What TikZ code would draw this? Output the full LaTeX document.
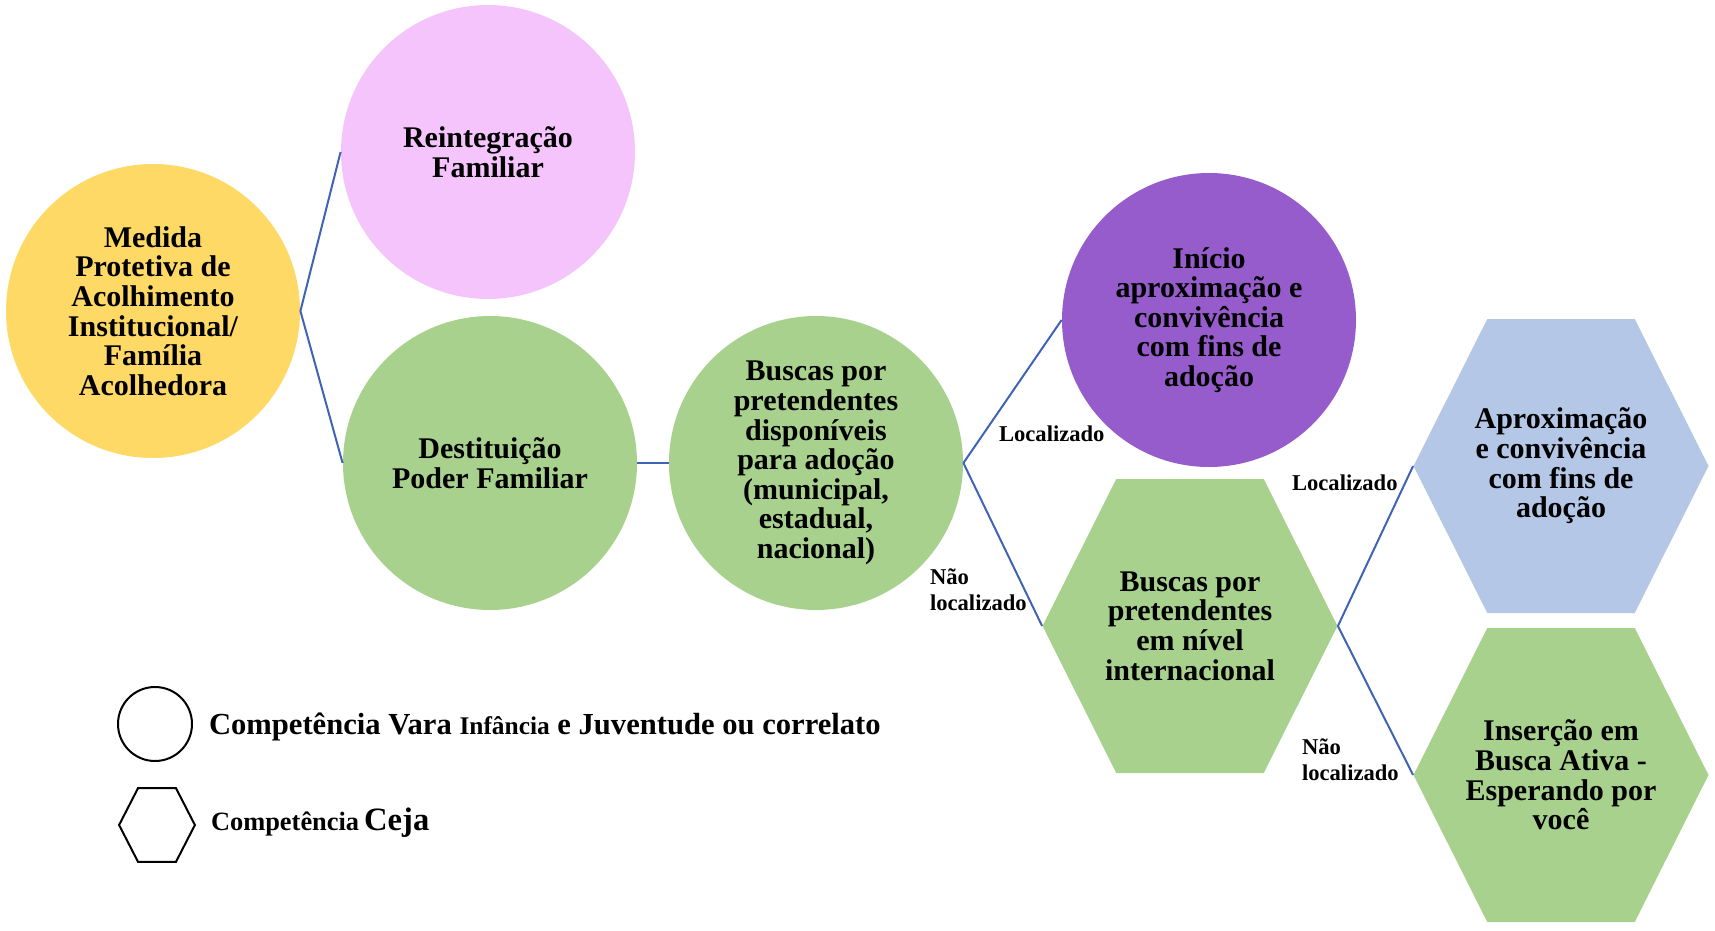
\documentclass[tikz,border=0pt]{standalone}
\usepackage{fontspec}
\setmainfont{Liberation Serif}
\usepackage{xcolor}
\usepackage{tikz}
\usetikzlibrary{calc,positioning}
\definecolor{linkblue}{RGB}{64,100,180}
\definecolor{acolhe}{RGB}{255,217,102}
\definecolor{reint}{RGB}{245,196,252}
\definecolor{verde}{RGB}{169,209,142}
\definecolor{roxo}{RGB}{150,92,204}
\definecolor{azul}{RGB}{180,199,231}

\begin{document}
\begin{tikzpicture}[x=0.5pt,y=-0.5pt,
    circ/.style={circle,fill=#1,minimum size=147pt,inner sep=0pt,align=center,font=\fontsize{15}{14.8}\selectfont\bfseries},
    hexa/.style={rectangle,minimum width=147.5pt,minimum height=147pt,inner sep=0pt,align=center,font=\fontsize{15}{14.8}\selectfont\bfseries,
      path picture={\fill[#1] (path picture bounding box.west)
        -- ($(path picture bounding box.north west)!.25!(path picture bounding box.north east)$)
        -- ($(path picture bounding box.north west)!.75!(path picture bounding box.north east)$)
        -- (path picture bounding box.east)
        -- ($(path picture bounding box.south west)!.75!(path picture bounding box.south east)$)
        -- ($(path picture bounding box.south west)!.25!(path picture bounding box.south east)$) -- cycle;}},
    lnk/.style={draw=linkblue,line width=1pt},
    lbl/.style={anchor=west,align=left,font=\fontsize{11.3}{12.8}\selectfont\bfseries},
    legtext/.style={anchor=west,font=\bfseries}]
   \useasboundingbox (0,0) rectangle (1715,931);
   \node[circ=acolhe] (med) at (153,311) {Medida\\Protetiva de\\Acolhimento\\Institucional/\\Família\\Acolhedora};
   \node[circ=reint]  (rein) at (488,152) {Reintegração\\Familiar};
   \node[circ=verde]  (dest) at (490,463) {Destituição\\Poder Familiar};
   \node[circ=verde]  (busc) at (816,463) {Buscas por\\pretendentes\\disponíveis\\para adoção\\(municipal,\\estadual,\\nacional)};
   \node[circ=roxo]   (inic) at (1209,320) {Início\\aproximação e\\convivência\\com fins de\\adoção};
   \node[hexa=verde]  (intl) at (1190,626) {Buscas por\\pretendentes\\em nível\\internacional};
   \node[hexa=azul]   (aprox) at (1561,466) {Aproximação\\e convivência\\com fins de\\adoção};
   \node[hexa=verde]  (ativa) at (1561,775) {Inserção em\\Busca Ativa -\\Esperando por\\você};
   \draw[lnk] (med.east)--(rein.west);
   \draw[lnk] (med.east)--(dest.west);
   \draw[lnk] (dest.east)--(busc.west);
   \draw[lnk] (busc.east)--(inic.west);
   \draw[lnk] (busc.east)--(intl.west);
   \draw[lnk] (intl.east)--(aprox.west);
   \draw[lnk] (intl.east)--(ativa.west);
   \node[lbl] (loc1) at (992,434) {Localizado};
   \node[lbl] (nloc1) at (923,590) {Não\\localizado};
   \node[lbl] (loc2) at (1285,483) {Localizado};
   \node[lbl] (nloc2) at (1295,760) {Não\\localizado};
   \node[circle,draw=black,line width=1pt,fill=white,minimum size=37pt,inner sep=0pt] (legc) at (155,724) {};
   \node[rectangle,minimum width=37.5pt,minimum height=36.5pt,inner sep=0pt] (legh) at (157,825) {};
   \draw[black,line width=1pt] (legh.west) -- ($(legh.north west)!.25!(legh.north east)$) -- ($(legh.north west)!.75!(legh.north east)$)
     -- (legh.east) -- ($(legh.south west)!.75!(legh.south east)$) -- ($(legh.south west)!.25!(legh.south east)$) -- cycle;
   \node[legtext] (legc-t) at (202,727) {\fontsize{15.3}{17}\selectfont Competência Vara {\fontsize{12.7}{14}\selectfont Infância} e Juventude ou correlato};
   \node[legtext] (legh-t) at (204,823) {{\fontsize{13.2}{15}\selectfont Competência} \fontsize{16.3}{18}\selectfont Ceja};
\end{tikzpicture}
\end{document}
